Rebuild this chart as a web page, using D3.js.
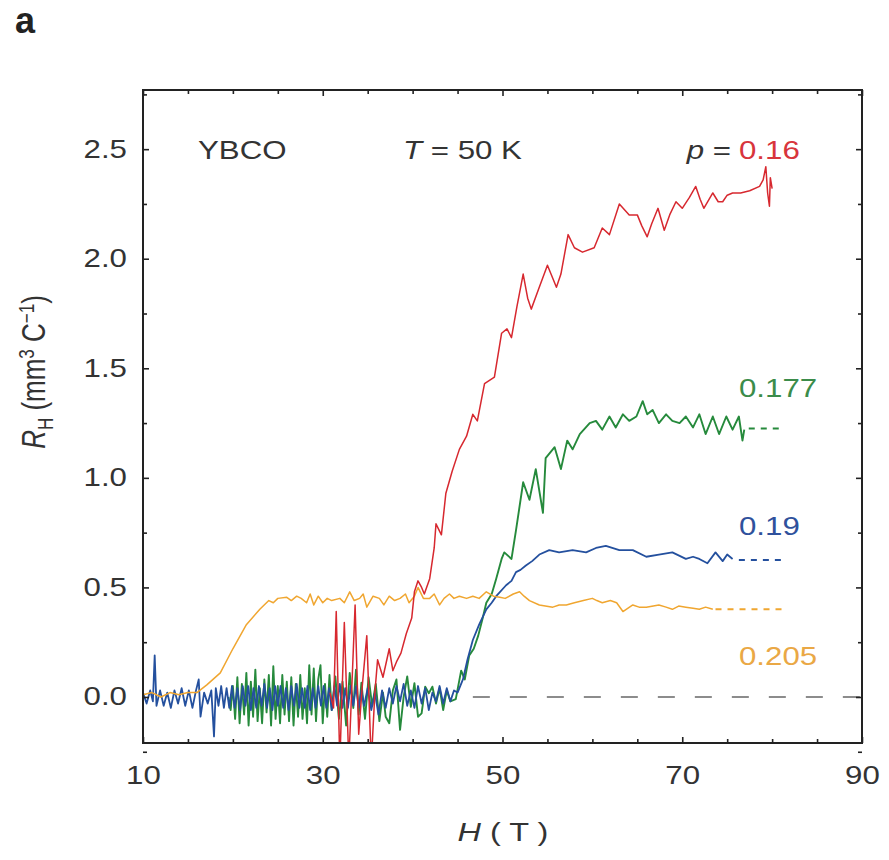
<!DOCTYPE html>
<html>
<head>
<meta charset="utf-8">
<script src="https://cdnjs.cloudflare.com/ajax/libs/d3/7.8.5/d3.min.js"></script>
<style>
  body { margin: 0; background: #fff; }
  text { font-family: "Liberation Sans", Arial, sans-serif; }
</style>
</head>
<body>
<div id="chart"></div>
<script>
// ---- Data (H in T, R_H in mm^3/C) ----
var p016 = [[30.8,0.02],[31.2,-0.05],[31.5,0.39],[31.9,-0.3],[32.4,0.34],[32.9,-0.3],[33.6,0.42],[34.0,-0.17],[34.4,0.05],
  [34.9,0.28],[35.4,-0.3],[35.8,0.02],[36.1,0.17],[36.7,0.09],[37.4,0.22],[37.8,0.12],[38.2,0.16],[38.7,0.2],[39.3,0.29],
  [39.9,0.36],[40.2,0.48],[40.6,0.53],[41.0,0.5],[41.3,0.47],[41.9,0.54],[42.4,0.68],[42.6,0.79],[43.2,0.74],[43.7,0.93],
  [44.4,1.03],[45.2,1.13],[46.0,1.19],[46.7,1.29],[47.2,1.26],[48.0,1.43],[49.1,1.46],[49.9,1.66],[50.5,1.68],[51.0,1.64],
  [51.6,1.78],[52.3,1.93],[52.8,1.82],[53.2,1.77],[54.0,1.86],[55.0,1.97],[56.0,1.87],[56.5,1.93],[57.3,2.11],[58.0,2.05],
  [58.9,2.03],[60.2,2.05],[61.1,2.14],[61.9,2.11],[63.0,2.25],[64.1,2.2],[65.0,2.2],[65.5,2.15],[66.1,2.1],[66.6,2.16],
  [67.3,2.23],[68.0,2.13],[68.6,2.2],[69.3,2.26],[70.0,2.23],[70.8,2.28],[71.5,2.33],[72.0,2.27],[72.4,2.23],[73.4,2.3],
  [74.0,2.26],[74.5,2.26],[75.0,2.29],[75.6,2.3],[76.5,2.3],[77.5,2.31],[78.6,2.33],[79.0,2.36],[79.3,2.42],[79.5,2.3],
  [79.7,2.24],[79.8,2.37],[80.0,2.32]];

var p0177 = [[19.5,0.0],[19.75,-0.06],[20.0,0.05],[20.25,-0.1],[20.5,0.09],[20.75,-0.12],[21.0,0.06],[21.25,-0.08],[21.5,0.11],
  [21.75,-0.13],[22.0,0.07],[22.25,-0.09],[22.5,0.125],[22.75,-0.11],[23.0,0.04],[23.25,-0.12],[23.5,0.08],[23.75,-0.07],
  [24.0,0.1],[24.25,-0.13],[24.5,0.14],[24.75,-0.1],[25.0,0.05],[25.25,-0.12],[25.5,0.1],[25.75,-0.08],[26.0,0.07],
  [26.25,-0.11],[26.5,0.09],[26.75,-0.13],[27.0,0.06],[27.25,-0.09],[27.5,0.1],[27.75,-0.1],[28.0,0.04],[28.25,-0.12],
  [28.5,0.145],[28.75,-0.08],[29.0,0.13],[29.25,-0.11],[29.5,0.08],[29.75,0.145],[30.0,-0.12],[30.25,0.06],[30.5,-0.09],
  [30.75,0.1],[31.0,-0.06],[31.4,0.094],[31.8,-0.1],[32.2,0.07],[32.6,-0.13],[33.0,0.11],[33.4,-0.05],[33.7,0.125],
  [34.0,-0.08],[34.3,0.065],[34.7,-0.1],[35.1,0.09],[35.5,-0.04],[35.9,0.06],[36.3,-0.11],[36.7,0.02],[37.0,-0.09],
  [37.4,-0.12],[37.8,0.03],[38.2,0.08],[38.6,-0.15],[39.0,0.0],[39.4,0.094],[39.8,-0.045],[40.2,0.063],[40.6,-0.09],
  [41.0,-0.075],[41.4,0.047],[41.8,0.017],[42.2,0.047],[42.6,-0.03],[43.0,0.04],[43.4,-0.06],[43.8,0.03],[44.2,-0.02],
  [44.8,-0.01],[45.4,0.12],[45.8,0.08],[46.3,0.19],[46.8,0.22],[47.3,0.28],[47.8,0.36],[48.2,0.43],[48.8,0.47],[49.3,0.54],
  [49.9,0.63],[50.2,0.66],[51.0,0.63],[51.5,0.76],[52.3,0.98],[53.0,0.9],[53.7,1.04],[54.5,0.84],[54.8,1.09],[55.8,1.14],
  [56.5,1.04],[57.2,1.17],[57.8,1.13],[58.6,1.2],[59.7,1.25],[60.4,1.26],[61.1,1.22],[61.9,1.28],[62.6,1.23],[63.4,1.29],
  [64.1,1.26],[64.9,1.28],[65.6,1.35],[66.1,1.29],[66.7,1.31],[67.4,1.25],[68.2,1.29],[68.9,1.26],[69.7,1.25],[70.4,1.28],
  [71.2,1.23],[71.9,1.29],[72.6,1.2],[73.4,1.28],[74.1,1.2],[74.9,1.28],[75.6,1.22],[76.3,1.28],[76.7,1.17],[76.9,1.22]];

var p019 = [[10.0,0.02],[10.4,-0.03],[10.8,0.03],[11.1,-0.02],[11.3,0.19],[11.5,-0.04],[11.9,0.03],[12.3,-0.04],[12.7,0.02],
  [13.1,-0.05],[13.5,0.03],[13.9,-0.03],[14.3,0.04],[14.7,-0.04],[15.1,0.03],[15.5,-0.05],[15.9,0.03],[16.2,0.08],[16.4,-0.09],
  [16.8,0.02],[17.2,-0.03],[17.6,0.03],[17.9,-0.18],[18.1,0.04],[18.4,-0.04],[18.7,0.05],[19.0,-0.05],[19.3,0.04],[19.6,-0.05],
  [19.9,0.05],[20.2,-0.05],[20.5,0.04],[20.8,-0.06],[21.1,0.05],[21.4,-0.04],[21.7,0.05],[22.0,-0.06],[22.3,0.04],[22.6,-0.05],
  [22.9,0.05],[23.2,-0.04],[23.5,0.06],[23.8,-0.05],[24.1,0.04],[24.4,-0.06],[24.7,0.05],[25.0,-0.04],[25.3,0.05],[25.6,-0.05],
  [25.9,0.04],[26.2,-0.06],[26.5,0.05],[26.8,-0.04],[27.1,0.06],[27.4,-0.05],[27.7,0.04],[28.0,-0.05],[28.3,0.05],[28.6,-0.06],
  [28.9,0.04],[29.2,-0.05],[29.5,0.05],[29.8,-0.04],[30.1,0.05],[30.4,-0.05],[30.7,0.04],[31.0,-0.06],[31.3,0.05],[31.6,-0.04],
  [31.9,0.06],[32.2,-0.05],[32.5,0.04],[32.8,-0.05],[33.1,0.05],[33.4,-0.04],[33.7,0.05],[34.0,-0.05],[34.3,0.03],[34.6,-0.04],
  [35.0,0.04],[35.4,-0.06],[35.8,0.02],[36.2,-0.08],[36.6,0.03],[37.0,-0.05],[37.4,0.04],[37.8,-0.03],[38.2,0.05],[38.6,-0.02],
  [39.0,0.06],[39.4,-0.04],[39.8,0.03],[40.2,-0.05],[40.6,0.05],[41.0,-0.03],[41.4,0.04],[41.8,-0.06],[42.2,0.02],[42.6,-0.02],
  [43.0,0.05],[43.4,-0.03],[43.8,0.04],[44.2,-0.02],[44.6,0.03],[45.0,0.02],[45.6,0.08],[46.1,0.17],[46.7,0.26],[47.4,0.33],
  [48.2,0.4],[48.8,0.43],[49.3,0.46],[50.4,0.51],[51.0,0.53],[51.5,0.57],[52.0,0.58],[52.6,0.6],[53.3,0.62],[54.1,0.65],
  [55.2,0.67],[56.3,0.66],[57.8,0.67],[59.3,0.66],[60.4,0.68],[61.5,0.69],[63.0,0.67],[64.5,0.67],[66.0,0.64],[67.4,0.65],
  [68.9,0.66],[70.4,0.63],[71.2,0.64],[71.9,0.63],[72.8,0.61],[73.7,0.66],[74.5,0.62],[75.0,0.65],[75.6,0.63]];

var p0205 = [[10.0,0.01],[11.0,0.02],[12.0,0.0],[13.0,0.02],[14.0,0.01],[15.0,0.02],[16.0,0.02],[17.1,0.055],[18.6,0.11],
  [20.0,0.22],[21.5,0.33],[23.0,0.4],[24.0,0.44],[24.5,0.43],[25.0,0.45],[26.0,0.455],[26.5,0.44],[27.1,0.46],[27.6,0.45],
  [28.2,0.43],[28.6,0.47],[29.0,0.42],[29.5,0.46],[30.0,0.43],[30.5,0.45],[31.0,0.44],[31.9,0.45],[32.4,0.43],[33.0,0.48],
  [33.5,0.44],[34.1,0.45],[34.5,0.47],[34.9,0.41],[35.6,0.46],[36.3,0.45],[36.8,0.42],[37.4,0.46],[38.0,0.44],[38.6,0.45],
  [39.2,0.47],[39.6,0.43],[40.2,0.46],[40.6,0.5],[41.2,0.45],[41.9,0.45],[42.4,0.47],[43.0,0.42],[43.5,0.45],[44.1,0.47],
  [44.6,0.45],[45.2,0.46],[46.0,0.45],[46.7,0.46],[47.4,0.45],[48.2,0.48],[49.0,0.46],[49.7,0.455],[50.3,0.45],[51.2,0.47],
  [51.9,0.48],[52.4,0.46],[53.0,0.44],[54.1,0.42],[55.6,0.41],[56.3,0.42],[57.1,0.42],[58.0,0.43],[59.0,0.44],[60.0,0.45],
  [60.5,0.44],[61.1,0.43],[62.0,0.44],[62.7,0.43],[63.4,0.39],[64.5,0.42],[65.2,0.41],[66.0,0.41],[67.4,0.42],[68.2,0.41],
  [68.9,0.4],[69.6,0.415],[70.4,0.41],[71.2,0.405],[71.9,0.4],[72.6,0.41],[73.4,0.4]];

// dashed high-field extrapolations and zero line
var ext0177 = [[77.4,1.225],[80.8,1.225]];
var ext019 = [[76.3,0.625],[81.1,0.625]];
var ext0205 = [[73.7,0.40],[81.1,0.40]];
var zero_line = [[46.7,0],[90,0]];

// tick values and labels
var x_major = [10, 30, 50, 70, 90];
var x_minor = [15, 20, 25, 35, 40, 45, 55, 60, 65, 75, 80, 85];
var y_major = [0, 0.5, 1.0, 1.5, 2.0, 2.5];
var y_minor = [-0.25, 0.25, 0.75, 1.25, 1.75, 2.25, 2.75];
var series_labels = ["0.16", "0.177", "0.19", "0.205"];

// ---- Layout ----
var chart_width = 889;
var chart_height = 860;
var plot_left = 143, plot_right = 862, plot_top = 90, plot_bottom = 743;
var stretch = 1.25;   // the figure's lettering is wide

var svg = d3.select("#chart")
  .append("svg")
  .attr("width", chart_width)
  .attr("height", chart_height);

var x_scale = d3.scaleLinear().domain([10, 90]).range([plot_left, plot_right]);
var y_scale = d3.scaleLinear().domain([-0.21, 2.77]).range([plot_bottom, plot_top]);

svg.append("defs").append("clipPath").attr("id", "plot-clip")
  .append("rect")
  .attr("x", plot_left).attr("y", plot_top)
  .attr("width", plot_right - plot_left).attr("height", plot_bottom - plot_top);

var line = d3.line()
  .x(function(d){ return x_scale(d[0]); })
  .y(function(d){ return y_scale(d[1]); });

var plot = svg.append("g").attr("clip-path", "url(#plot-clip)");

// zero reference line
plot.append("path")
  .datum(zero_line)
  .attr("d", line)
  .attr("fill", "none")
  .attr("stroke", "#8c8c8c")
  .attr("stroke-width", 2)
  .attr("stroke-dasharray", "17,20");

var colors = { red: "#d7282f", green: "#268a3c", blue: "#24509e", orange: "#f0a630" };

function draw_curve(data, color, width){
  plot.append("path")
    .datum(data)
    .attr("d", line)
    .attr("fill", "none")
    .attr("stroke", color)
    .attr("stroke-width", width)
    .attr("stroke-linejoin", "round");
}
function draw_ext(data, color){
  plot.append("path")
    .datum(data)
    .attr("d", line)
    .attr("fill", "none")
    .attr("stroke", color)
    .attr("stroke-width", 2)
    .attr("stroke-dasharray", "6,6");
}

draw_curve(p0177, colors.green, 1.9);
draw_curve(p019, colors.blue, 1.8);
draw_curve(p0205, colors.orange, 1.5);
draw_curve(p016, colors.red, 1.5);
draw_ext(ext0177, colors.green);
draw_ext(ext019, colors.blue);
draw_ext(ext0205, colors.orange);

// ---- Axes (ticks pointing inward on all four sides) ----
function add_axis(axis, tx, ty){
  var g = svg.append("g")
    .attr("transform", "translate(" + tx + "," + ty + ")")
    .call(axis);
  g.select(".domain").remove();
  g.selectAll("line").attr("stroke", "#222").attr("stroke-width", 1.6);
  return g;
}

var xb = add_axis(d3.axisBottom(x_scale).tickValues(x_major).tickSize(-6).tickPadding(23)
  .tickFormat(d3.format("d")), 0, plot_bottom);
add_axis(d3.axisBottom(x_scale).tickValues(x_minor).tickSize(-4).tickFormat(""), 0, plot_bottom);
add_axis(d3.axisTop(x_scale).tickValues(x_major).tickSize(-6).tickFormat(""), 0, plot_top);
add_axis(d3.axisTop(x_scale).tickValues(x_minor).tickSize(-4).tickFormat(""), 0, plot_top);

var yl = add_axis(d3.axisLeft(y_scale).tickValues(y_major).tickSize(-6)
  .tickFormat(d3.format(".1f")), plot_left, 0);
add_axis(d3.axisLeft(y_scale).tickValues(y_minor).tickSize(-4).tickFormat(""), plot_left, 0);
add_axis(d3.axisRight(y_scale).tickValues(y_major).tickSize(-6).tickFormat(""), plot_right, 0);
add_axis(d3.axisRight(y_scale).tickValues(y_minor).tickSize(-4).tickFormat(""), plot_right, 0);

xb.selectAll("text")
  .style("font-size", "25px").style("font-family", "Liberation Sans, Arial, sans-serif")
  .attr("fill", "#333")
  .attr("transform", "scale(" + stretch + ",1)");
yl.selectAll("text")
  .style("font-size", "25px").style("font-family", "Liberation Sans, Arial, sans-serif")
  .attr("fill", "#333")
  .attr("x", 0)
  .attr("transform", "translate(-16,0) scale(" + stretch + ",1)");

// frame
svg.append("rect")
  .attr("x", plot_left).attr("y", plot_top)
  .attr("width", plot_right - plot_left).attr("height", plot_bottom - plot_top)
  .attr("fill", "none")
  .attr("stroke", "#222")
  .attr("stroke-width", 2);

// ---- Text ----
function add_text(x, y, anchor, size){
  return svg.append("text")
    .attr("transform", "translate(" + x + "," + y + ") scale(" + stretch + ",1)")
    .attr("text-anchor", anchor)
    .style("font-size", size + "px")
    .attr("fill", "#333");
}

svg.append("text")
  .attr("x", 15).attr("y", 33)
  .style("font-size", "36px").style("font-weight", "bold")
  .attr("fill", "#222")
  .text("a");

add_text(198, 159, "start", 25).text("YBCO");

var t_txt = add_text(403, 159, "start", 25);
t_txt.append("tspan").style("font-style", "italic").text("T");
t_txt.append("tspan").text(" = 50 K");

var p_txt = add_text(731, 159, "end", 25);
p_txt.append("tspan").style("font-style", "italic").text("p");
p_txt.append("tspan").text(" =");

add_text(739, 159, "start", 25).attr("fill", "#d8353c").text(series_labels[0]);
add_text(739, 397, "start", 25).attr("fill", "#3b8c4a").text(series_labels[1]);
add_text(739, 535, "start", 25).attr("fill", "#2f519c").text(series_labels[2]);
add_text(739, 665, "start", 25).attr("fill", "#eaa845").text(series_labels[3]);

// x axis title
var xt = add_text(503, 841, "middle", 26);
xt.append("tspan").style("font-style", "italic").text("H");
xt.append("tspan").text(" ( T )");

// y axis title (rotated, stretched across the page)
var yt = svg.append("text")
  .attr("transform", "translate(45,372) rotate(-90) scale(1," + stretch + ")")
  .attr("text-anchor", "middle")
  .style("font-size", "26px")
  .attr("fill", "#333");
yt.append("tspan").style("font-style", "italic").text("R");
yt.append("tspan").attr("dy", 6).style("font-size", "17px").text("H");
yt.append("tspan").attr("dy", -6).text(" (mm");
yt.append("tspan").attr("dy", -9).style("font-size", "17px").text("3");
yt.append("tspan").attr("dy", 9).text(" C");
yt.append("tspan").attr("dy", -9).style("font-size", "17px").text("\u22121");
yt.append("tspan").attr("dy", 9).text(")");
</script>
</body>
</html>
